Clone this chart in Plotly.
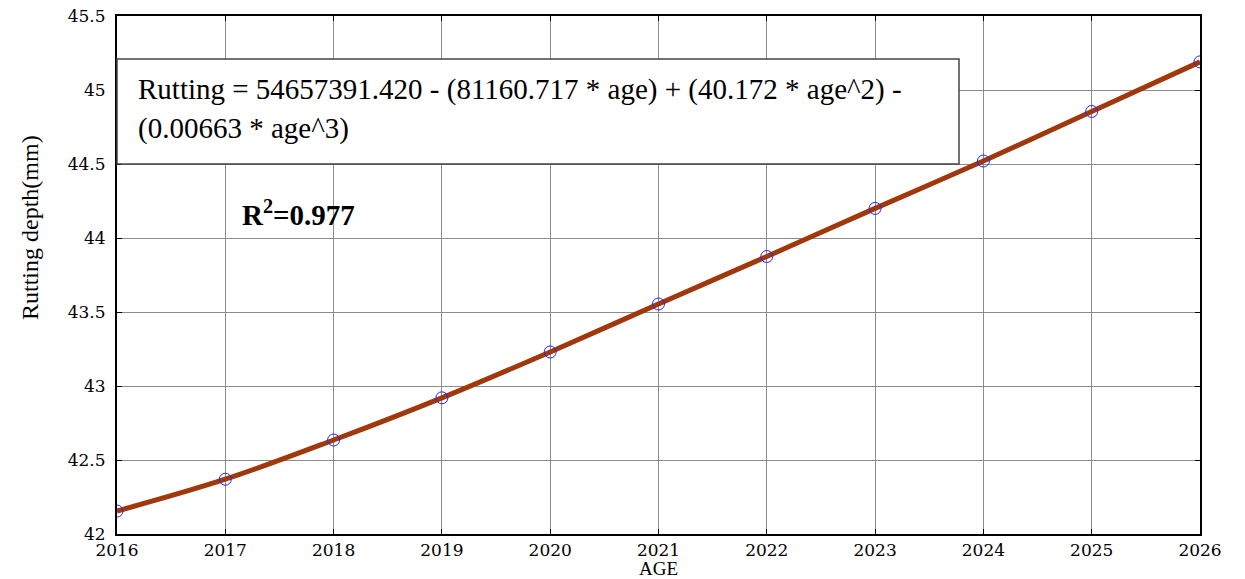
import plotly.graph_objects as go

years = [2016, 2017, 2018, 2019, 2020, 2021, 2022, 2023, 2024, 2025, 2026]
rutting = [42.155, 42.37, 42.635, 42.92, 43.23, 43.554, 43.875, 44.20, 44.52, 44.855, 45.19]
x_ticks = [2016, 2017, 2018, 2019, 2020, 2021, 2022, 2023, 2024, 2025, 2026]
y_ticks = [42, 42.5, 43, 43.5, 44, 44.5, 45, 45.5]
y_tick_labels = ["42", "42.5", "43", "43.5", "44", "44.5", "45", "45.5"]

eq_line1 = "Rutting = 54657391.420 - (81160.717 * age) + (40.172 * age^2) -"
eq_line2 = "(0.00663 * age^3)"
r2_text = "<b>R<sup>2</sup>=0.977</b>"
x_title = "AGE"
y_title = "Rutting depth(mm)"

# page body has an 8px margin: figure occupies page pixels 8..1245 x 8..579
OFF = 8
FW, FH = 1245 - OFF, 579 - OFF
L, R, T, B = 117, 1200, 16, 534   # plot area in page pixels
W, H = R - L, B - T

def px(x):
    return (x - L) / W

def py(y):
    return (B - y) / H

fig = go.Figure()
fig.add_trace(go.Scatter(
    x=years, y=rutting, mode="lines",
    line=dict(color="#A0380B", width=5, shape="spline"),
    showlegend=False, hoverinfo="skip"))
fig.add_trace(go.Scatter(
    x=years, y=rutting, mode="markers",
    marker=dict(symbol="circle-open", size=12, color="#2626FF", line=dict(width=1)),
    showlegend=False))

serif = "Liberation Serif, Times New Roman, serif"
tickserif = "DejaVu Serif, serif"
fig.update_layout(
    width=FW, height=FH,
    margin=dict(l=L - OFF, r=1245 - R, t=T - OFF, b=579 - B),
    paper_bgcolor="white", plot_bgcolor="white",
    font=dict(family=serif, color="black"),
    xaxis=dict(range=[2016, 2026], tickvals=x_ticks, ticktext=[str(v) for v in x_ticks],
               showgrid=True, gridcolor="#8c8c8c", gridwidth=1, automargin=False,
               showline=True, linecolor="black", linewidth=2, mirror="ticks",
               ticks="inside", ticklen=5, tickcolor="black", ticklabelstandoff=0,
               ticklabeloverflow="allow",
               tickfont=dict(size=17, family=tickserif), zeroline=False),
    yaxis=dict(range=[42, 45.5], tickvals=y_ticks, ticktext=y_tick_labels,
               showgrid=True, gridcolor="#8c8c8c", gridwidth=1, automargin=False,
               showline=True, linecolor="black", linewidth=2, mirror="ticks",
               ticks="inside", ticklen=5, tickcolor="black", ticklabelstandoff=6,
               ticklabeloverflow="allow",
               tickfont=dict(size=17, family=tickserif), zeroline=False),
)

fig.add_shape(type="rect", xref="paper", yref="paper",
              x0=0, x1=px(959), y0=py(164), y1=py(59),
              line=dict(color="#444444", width=1.5), fillcolor="white", layer="above")
fig.add_annotation(xref="paper", yref="paper", x=px(136), y=py(89),
                   text=eq_line1, showarrow=False, xanchor="left", yanchor="middle",
                   font=dict(size=29, family=serif))
fig.add_annotation(xref="paper", yref="paper", x=px(136), y=py(128),
                   text=eq_line2, showarrow=False, xanchor="left", yanchor="middle",
                   font=dict(size=29, family=serif))
fig.add_annotation(xref="paper", yref="paper", x=px(240), y=py(213),
                   text=r2_text, showarrow=False, xanchor="left", yanchor="middle",
                   font=dict(size=29, family=serif))
fig.add_annotation(xref="paper", yref="paper", x=px(658), y=py(568),
                   text=x_title, showarrow=False, xanchor="center", yanchor="middle",
                   font=dict(size=19, family=serif))
fig.add_annotation(xref="paper", yref="paper", x=px(30), y=py(228),
                   text=y_title, showarrow=False, xanchor="center", yanchor="middle",
                   textangle=-90, font=dict(size=24, family=serif))

fig.write_html("out.html")
